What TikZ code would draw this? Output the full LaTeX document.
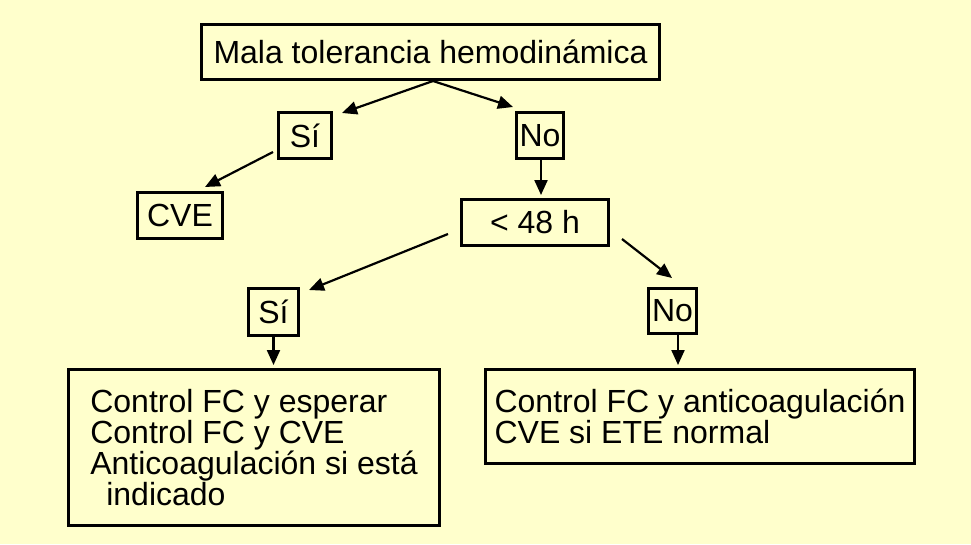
\documentclass[tikz,border=0pt]{standalone}
\usepackage{fontspec}
\setmainfont{Liberation Sans}
\usetikzlibrary{arrows.meta,calc}
\definecolor{bgyellow}{HTML}{FFFFCC}
\begin{document}
\begin{tikzpicture}[x=1pt,y=1pt,
  box/.style={draw=black,line width=3pt,inner sep=0pt,minimum height=49pt,
    font=\fontsize{32}{31}\selectfont},
  bigbox/.style={box,align=left},
  arr/.style={line width=2.2pt,-{Triangle[length=15pt,width=13pt]}},
  ln/.style={line width=2.2pt}]
\fill[bgyellow] (0,0) rectangle (971,-544);
\useasboundingbox (0,0) rectangle (971,-544);

\node[box,minimum width=458pt,minimum height=55pt] (top) at (430.5,-51.5) {Mala tolerancia hemodinámica};
\node[box,minimum width=53pt,minimum height=46pt] (si1) at (305,-135.5) {Sí};
\node[box,minimum width=47pt,minimum height=46pt] (no1) at (540,-135.5) {No};
\node[box,minimum width=85pt,minimum height=46pt] (cve) at (180,-215.5) {CVE};
\node[box,minimum width=147pt,minimum height=46pt] (h48) at (535,-222.5) {< 48 h};
\node[box,minimum width=50pt,minimum height=47pt] (si2) at (273.5,-312) {Sí};
\node[box,minimum width=48pt,minimum height=45pt] (no2) at (672.5,-311) {No};
\node[bigbox,minimum width=371pt,minimum height=156pt] (bl) at (254,-447.5)
  {Control FC y esperar\\Control FC y CVE\\Anticoagulación si está\\\hspace*{16pt}indicado};
\node[bigbox,minimum width=429pt,minimum height=94pt] (br) at (700,-416.5)
  {Control FC y anticoagulación\\CVE si ETE normal};

\coordinate (topout) at (433,-81);
\coordinate (siin) at (342,-113);
\coordinate (noin) at (513,-107);
\coordinate (siout) at (273,-152);
\coordinate (cvein) at (205,-187);
\coordinate (hout1) at (448,-234);
\coordinate (si2in) at (309,-290);
\coordinate (hout2) at (622,-239);
\coordinate (no2in) at (672,-278);

\draw[arr] (topout) -- (siin);
\draw[arr] (topout) -- (noin);
\draw[arr] (siout) -- (cvein);
\draw[arr] (no1.south -| 541,0) -- ($(h48.north -| 541,0)+(0,3)$);
\draw[arr] (hout1) -- (si2in);
\draw[arr] (hout2) -- (no2in);
\draw[arr] (si2.south) -- ($(bl.north -| si2.south)+(0,3)$);
\draw[arr] (678,-335) -- ($(br.north -| 678,0)+(0,3)$);
\end{tikzpicture}
\end{document}
